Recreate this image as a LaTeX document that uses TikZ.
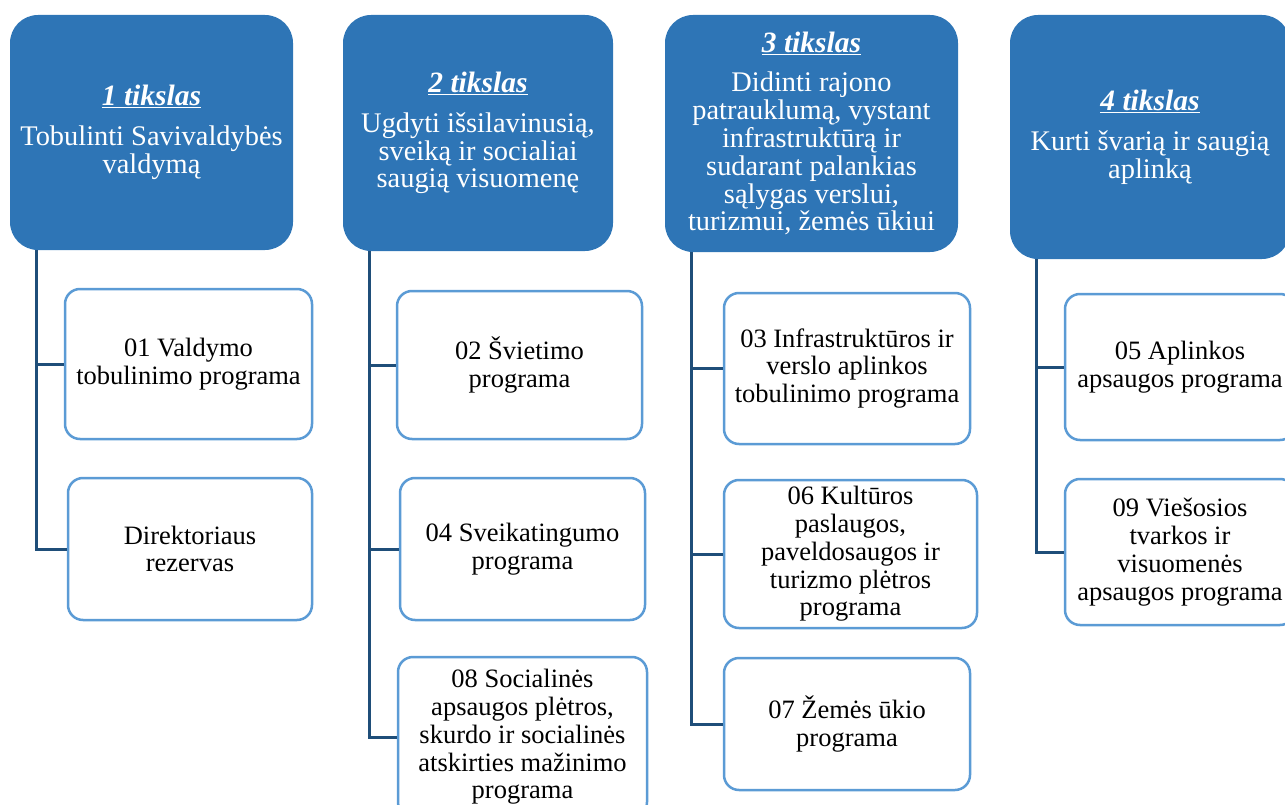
\documentclass[tikz,border=0pt]{standalone}
\usepackage{fontspec}
\setmainfont{Liberation Serif}
\usepackage{tikz}

\definecolor{goalblue}{HTML}{2E75B6}
\definecolor{progedge}{HTML}{5B9BD5}
\definecolor{linkblue}{HTML}{1F4E79}

\tikzset{
  goal/.style={fill=goalblue, text=white, rounded corners=28pt, align=center,
    inner sep=0pt, font=\fontsize{28.4}{27.8}\selectfont},
  prog/.style={draw=progedge, line width=2.5pt, fill=white, rounded corners=15pt,
    align=center, inner sep=0pt, font=\fontsize{26.5}{27.8}\selectfont},
  link/.style={draw=linkblue, line width=3pt}
}
\newcommand{\goaltitle}[1]{{\fontsize{29.5}{27.8}\selectfont\underline{\textbf{\textit{#1}}}}\\[12pt]}

\begin{document}
\begin{tikzpicture}[x=1pt,y=-1pt]
\useasboundingbox (0,0) rectangle (1285,805);

% goals
\node[goal, minimum width=283pt, minimum height=235pt] (h1) at (151.5,132.5)
	{\goaltitle{1 tikslas}Tobulinti Savivaldybės\\valdymą};
\node[goal, minimum width=270pt, minimum height=236pt] (h2) at (478,133)
	{\goaltitle{2 tikslas}Ugdyti išsilavinusią,\\sveiką ir socialiai\\saugią visuomenę};
\node[goal, minimum width=293pt, minimum height=237pt] (h3) at (811.5,133.5)
	{\goaltitle{3 tikslas}Didinti rajono\\patrauklumą, vystant\\infrastruktūrą ir\\sudarant palankias\\sąlygas verslui,\\turizmui, žemės ūkiui};
\node[goal, minimum width=280pt, minimum height=244pt] (h4) at (1150,137)
	{\goaltitle{4 tikslas}Kurti švarią ir saugią\\aplinką};

% programs
\node[prog, minimum width=247pt, minimum height=150pt] (p01) at (188.5,364)
	{01 Valdymo\\tobulinimo programa};
\node[prog, minimum width=244pt, minimum height=142pt] (rez) at (190,549)
	{Direktoriaus\\rezervas};

\node[prog, minimum width=245pt, minimum height=148pt] (p02) at (519.5,365)
	{02 Švietimo\\programa};
\node[prog, minimum width=245pt, minimum height=142pt] (p04) at (522.5,549)
	{04 Sveikatingumo\\programa};
\node[prog, minimum width=249pt, minimum height=160pt] (p08) at (522.5,737)
	{08 Socialinės\\apsaugos plėtros,\\skurdo ir socialinės\\atskirties mažinimo\\programa};

\node[prog, minimum width=246pt, minimum height=151pt] (p03) at (847,368.5)
	{03 Infrastruktūros ir\\verslo aplinkos\\tobulinimo programa};
\node[prog, minimum width=253pt, minimum height=148pt] (p06) at (850.5,554)
	{06 Kultūros\\paslaugos,\\paveldosaugos ir\\turizmo plėtros\\programa};
\node[prog, minimum width=246pt, minimum height=132pt] (p07) at (847,724)
	{07 Žemės ūkio\\programa};

\node[prog, minimum width=230pt, minimum height=146pt] (p05) at (1180,367)
	{05 Aplinkos\\apsaugos programa};
\node[prog, minimum width=230pt, minimum height=146pt] (p09) at (1180,552)
	{09 Viešosios\\tvarkos ir\\visuomenės\\apsaugos programa};

% links
\foreach \g/\p in {h1/p01, h1/rez, h2/p02, h2/p04, h2/p08, h3/p03, h3/p06, h3/p07, h4/p05, h4/p09}
	\draw[link] ([xshift=27pt]\g.south west) |- (\p.west);
\end{tikzpicture}
\end{document}
